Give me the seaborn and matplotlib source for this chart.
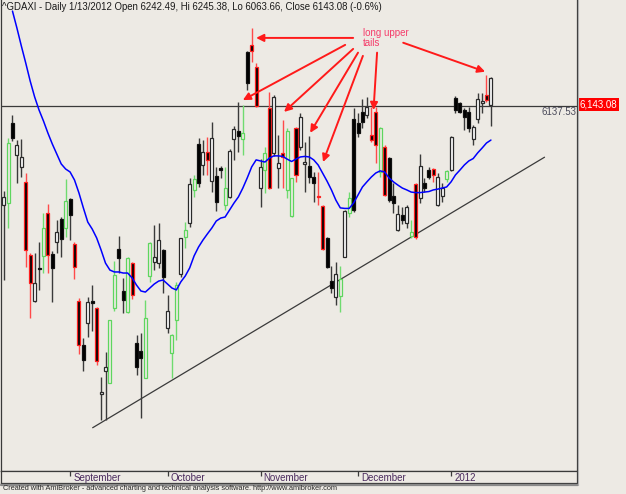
import numpy as np
import matplotlib
matplotlib.use("Agg")
import matplotlib.pyplot as plt
import matplotlib.transforms as mtransforms
from matplotlib.lines import Line2D
import seaborn as sns

# daily OHLC of ^GDAXI (Aug 2011 - Jan 13 2012)
opens = [5769, 5776, 6076, 5955, 5911, 5855, 5582, 5411, 5531, 5579,
         5739, 5586, 5631, 5717, 5683, 5791, 5623, 5411, 5247, 5329,
         5411, 5385, 5062, 5150, 5105, 5385, 5605, 5448, 5370, 5552,
         5254, 5224, 5124, 5504, 5556, 5552, 5601, 5310, 5284, 5340,
         5511, 5649, 5703, 5825, 5851, 5966, 5937, 6019, 5780, 5907,
         5832, 5799, 6015, 6026, 6037, 6224, 6366, 6284, 5911, 5899,
         5832, 6172, 5907, 5948, 6045, 5728, 5881, 6097, 5922, 5873,
         5873, 5802, 5765, 5646, 5485, 5511, 5429, 5575, 5739, 5750,
         6075, 6116, 6134, 6011, 6116, 6056, 5806, 5944, 5802, 5735,
         5713, 5761, 5653, 5649, 5914, 5832, 5899, 5903, 5873, 5802,
         5866, 5899, 6123, 6149, 6123, 6116, 6060, 6090, 6149, 6160,
         6242.49]
highs = [5821, 6019, 6105, 6011, 6015, 5888, 5590, 5590, 5631, 5739,
         5773, 5597, 5713, 5724, 5866, 5794, 5631, 5422, 5273, 5426,
         5470, 5388, 5127, 5220, 5341, 5560, 5653, 5497, 5575, 5556,
         5284, 5291, 5414, 5631, 5694, 5702, 5603, 5433, 5286, 5482,
         5647, 5705, 5870, 5881, 6019, 6011, 6022, 6078, 5911, 5914,
         5911, 5978, 6063, 6153, 6142, 6342, 6429, 6298, 5940, 5985,
         6190, 6179, 6030, 6086, 6056, 5871, 6060, 6112, 6004, 6026,
         5892, 5892, 5767, 5648, 5540, 5556, 5541, 5750, 5817, 6131,
         6112, 6164, 6172, 6134, 6134, 6060, 5993, 5948, 5851, 5769,
         5761, 5769, 5713, 5849, 5959, 5870, 5911, 5907, 5888, 5851,
         5899, 6026, 6175, 6153, 6131, 6134, 6067, 6187, 6187, 6254,
         6245.38]
lows = [5489, 5683, 6009, 5851, 5873, 5538, 5347, 5407, 5452, 5515,
        5515, 5407, 5590, 5575, 5649, 5638, 5493, 5212, 5150, 5276,
        5300, 5172, 4967, 4967, 5103, 5373, 5515, 5366, 5366, 5418,
        5135, 4974, 5122, 5482, 5526, 5534, 5441, 5291, 5124, 5265,
        5500, 5608, 5688, 5799, 5836, 5881, 5881, 5817, 5746, 5870,
        5750, 5795, 5937, 5966, 5955, 6198, 6302, 6134, 5761, 5814,
        5830, 5952, 5832, 5832, 5795, 5724, 5855, 5974, 5817, 5851,
        5780, 5769, 5601, 5534, 5440, 5396, 5370, 5573, 5724, 5743,
        6022, 6056, 6093, 6004, 5925, 5873, 5802, 5780, 5739, 5672,
        5698, 5683, 5646, 5642, 5776, 5817, 5866, 5855, 5765, 5780,
        5855, 5896, 6112, 6112, 6049, 6041, 5993, 6075, 6112, 6153,
        6063.66]
closes = [5799, 6000, 6018, 5993, 5948, 5601, 5478, 5478, 5529, 5683,
          5582, 5534, 5668, 5642, 5784, 5731, 5538, 5247, 5191, 5407,
          5403, 5187, 5070, 5165, 5340, 5508, 5571, 5414, 5571, 5433,
          5165, 5198, 5347, 5627, 5575, 5638, 5500, 5373, 5217, 5470,
          5646, 5676, 5847, 5866, 5996, 5918, 5966, 5858, 5877, 5899,
          5769, 5970, 6052, 6045, 6015, 6339, 6343, 6138, 5832, 5963,
          6131, 5963, 5925, 5963, 5825, 5870, 6056, 5985, 5929, 5914,
          5851, 5799, 5605, 5538, 5459, 5426, 5493, 5746, 5795, 6089,
          6037, 6078, 6105, 6030, 5993, 5892, 5985, 5787, 5776, 5676,
          5731, 5702, 5668, 5847, 5795, 5851, 5873, 5881, 5769, 5832,
          5896, 6022, 6168, 6116, 6097, 6056, 6015, 6164, 6157, 6179,
          6143.08]
# candle colouring used by the chart: g = green hollow, w = white,
# k = black, r = black with red outline
styles = list("wgkwwrrwkgrkwkgkrrkwkrwwggkkgrkkggwwkwggwgwgkwrwkkgwwkgkrrwgrwwrggrwwkkrrkkwgwgkkkwrrgrkkwkwgrwkkrwwgwkkkkwwwr")

# blue moving average, read per bar from bar 2 onward
ma_start = 2
ma_vals = [6492, 6429, 6362, 6298, 6231, 6172, 6123, 6082, 6037, 5996,
           5959, 5922, 5903, 5892, 5862, 5814, 5758, 5705, 5679, 5646,
           5601, 5552, 5526, 5519, 5519, 5515, 5515, 5497, 5470, 5448,
           5444, 5459, 5474, 5485, 5489, 5474, 5459, 5452, 5482, 5504,
           5534, 5579, 5612, 5638, 5661, 5683, 5709, 5720, 5724, 5750,
           5776, 5799, 5832, 5870, 5911, 5937, 5933, 5929, 5944, 5952,
           5952, 5950, 5940, 5931, 5940, 5948, 5950, 5948, 5937, 5918,
           5888, 5858, 5825, 5787, 5758, 5756, 5756, 5776, 5806, 5836,
           5855, 5873, 5888, 5896, 5892, 5870, 5855, 5843, 5832, 5825,
           5817, 5815, 5815, 5817, 5819, 5825, 5828, 5832, 5836, 5855,
           5881, 5899, 5918, 5933, 5942, 5963, 5981, 6000, 6011]

# rising support line and horizontal level
trend_x = [20.1, 122.1]
trend_y = [4938, 5947]
level = 6137.53

month_labels = ["September", "October", "November", "December", "2012"]
month_starts = [15, 37, 58, 80, 101]

title = ("^GDAXI - Daily 1/13/2012 Open 6242.49, Hi 6245.38, "
         "Lo 6063.66, Close 6143.08 (-0.6%)")
note = "long upper\ntails"
note_pos = (81.1, 6429)
arrow_tails = [(78.9, 6392), (77.1, 6366), (78.9, 6351), (80.0, 6337),
               (81.1, 6325), (84.3, 6337), (90.2, 6374)]
arrow_heads = [(57.0, 6392), (54.0, 6160), (63.3, 6116), (69.2, 6038),
               (72.1, 5929), (83.5, 6123), (108.7, 6266)]

bg = "#EDEAE4"
sns.set_style("white", {"axes.facecolor": bg, "figure.facecolor": bg})
plt.rcParams["font.family"] = ["Liberation Sans", "DejaVu Sans"]

W, H = 626, 494
fig = plt.figure(figsize=(W / 100, H / 100), dpi=100)
ax = fig.add_axes([1 / W, 23 / H, 576 / W, 471 / H])
ax.set_facecolor(bg)

n = len(opens)
x = np.arange(n)
o = np.array(opens)
c = np.array(closes)

edge_map = {"g": "#5ED65E", "w": "#2A2A2A", "k": "#111111", "r": "#FF2020"}
fill_map = {"g": bg, "w": "#FFFFFF", "k": "#000000", "r": "#000000"}
wick_map = {"g": "#6FDB6F", "w": "#3A3A3A", "k": "#3A3A3A", "r": "#FF4A4A"}

# wicks first, bodies on top
ax.vlines(x, lows, highs, colors=[wick_map[s] for s in styles],
          linewidth=1.0, zorder=2)
ax.bar(x, np.maximum(np.abs(c - o), 3), bottom=np.minimum(o, c), width=0.68,
       color=[fill_map[s] for s in styles],
       edgecolor=[edge_map[s] for s in styles], linewidth=0.9, zorder=3)

ma_x = np.arange(ma_start, ma_start + len(ma_vals))
sns.lineplot(x=ma_x, y=ma_vals, color="#0000FF", linewidth=1.1, ax=ax,
             zorder=4)

ax.plot(trend_x, trend_y, color="#3A3A3A", linewidth=0.9, zorder=1)
ax.axhline(level, color="#3A3A3A", linewidth=0.9, zorder=1)

bt = mtransforms.blended_transform_factory(ax.transAxes, ax.transData)
ax.text(0.999, level - 4, "6137.53", transform=bt, ha="right", va="top",
        fontsize=7, color="#4A4A5A")
ax.text(1.004, closes[-1], "6,143.08", transform=bt, ha="left",
        va="center", fontsize=7, color="white", clip_on=False,
        bbox=dict(boxstyle="square,pad=0.18", fc="#FF0000", ec="none"))

for tail, head in zip(arrow_tails, arrow_heads):
    ax.annotate("", xy=head, xytext=tail,
                arrowprops=dict(arrowstyle="-|>", color="#FF1A1A",
                                lw=1.4, mutation_scale=11,
                                shrinkA=0, shrinkB=0), zorder=5)
ax.text(note_pos[0], note_pos[1], note, ha="left", va="top", fontsize=7,
        color="#F53C6A", linespacing=1.05, zorder=6)

ax.set_xlim(-0.59, 129.43)
ax.set_ylim(4776.6, 6533.4)
ax.set_xticks([])
ax.set_yticks([])
ax.set_xlabel("")
ax.set_ylabel("")
for side in ["left", "right", "bottom"]:
    ax.spines[side].set_color("#3A3A3A")
    ax.spines[side].set_linewidth(0.9)
ax.spines["top"].set_visible(False)

# month strip under the price pane
ax2 = fig.add_axes([1 / W, 11 / H, 576 / W, 12 / H])
ax2.set_facecolor(bg)
ax2.set_xlim(-0.59, 129.43)
ax2.set_ylim(0, 1)
ax2.set_xticks([])
ax2.set_yticks([])
for side in ["left", "right", "bottom", "top"]:
    ax2.spines[side].set_color("#3A3A3A")
    ax2.spines[side].set_linewidth(0.9)
ax2.vlines(month_starts, 0.55, 1.0, color="#3A3A3A", linewidth=0.9)
for pos, lab in zip(month_starts, month_labels):
    ax2.text(pos + 0.7, 0.42, lab, ha="left", va="center", fontsize=7,
             color="#4A2A5E")

fig.add_artist(Line2D([1 / W, 578 / W], [1 - 484.5 / H] * 2,
                      color="#8A8A8A", linewidth=1.6))
fig.add_artist(Line2D([578 / W, 578 / W], [1 - 484.5 / H, 1.0],
                      color="#B0B0B0", linewidth=0.8))

fig.text(2 / W, 1 - 6.5 / H, title, ha="left", va="center", fontsize=6.9,
         color="#1A1A1A")
fig.text(3 / W, 1 - 488.5 / H,
         "Created with AmiBroker - advanced charting and technical analysis "
         "software. http://www.amibroker.com",
         ha="left", va="center", fontsize=5.3, color="#2A2A2A")

fig.savefig("out.png", dpi=100, facecolor=bg)
